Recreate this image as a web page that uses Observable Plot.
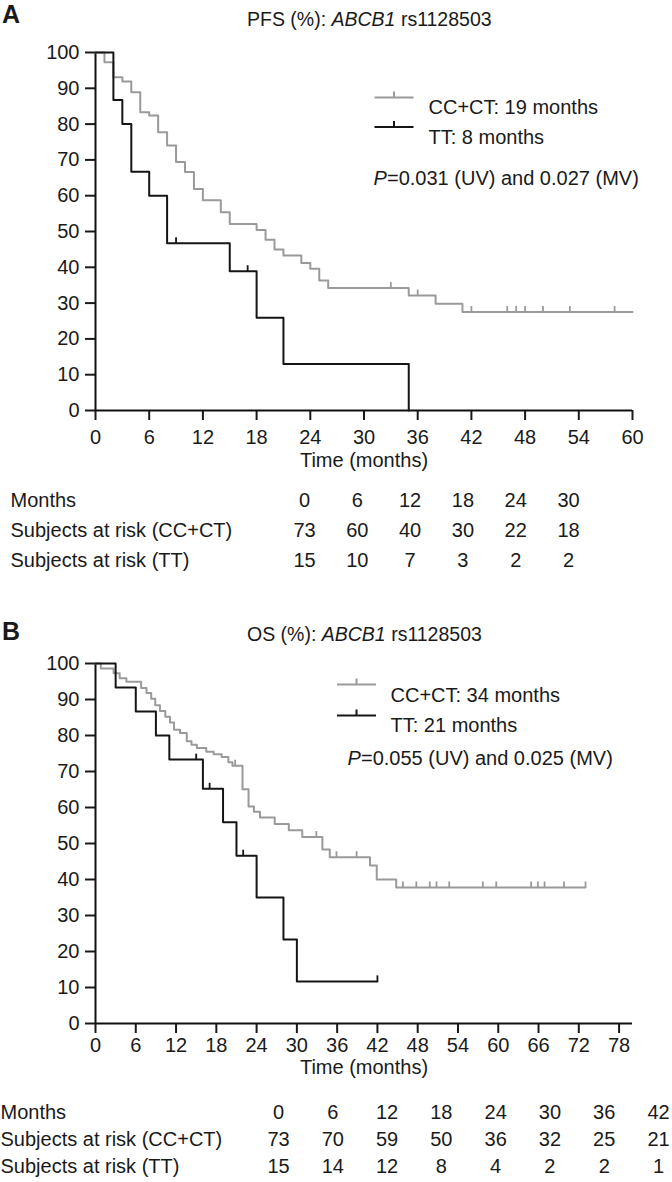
<!DOCTYPE html>
<html><head><meta charset="utf-8">
<script src="https://cdn.jsdelivr.net/npm/d3@7"></script>
<script src="https://cdn.jsdelivr.net/npm/@observablehq/plot@0.6"></script>
<style>
html,body{margin:0;padding:0;background:#fff;}
#root{position:relative;width:672px;height:1182px;overflow:hidden;font-family:"Liberation Sans",Arial,sans-serif;color:#1a1a1a;}
.abs{position:absolute;left:0;}
.letter{font-weight:bold;font-size:25px;line-height:1;}
.title{font-size:19.5px;line-height:1;white-space:nowrap;}
#root svg [aria-label^="x-axis"] line, #root svg [aria-label^="x-axis"] path,
#root svg [aria-label^="y-axis"] line, #root svg [aria-label^="y-axis"] path {stroke-width:2px;}
</style></head><body><div id="root"></div>
<script>
// ---------- data ----------
const yTicks = [0,10,20,30,40,50,60,70,80,90,100];
const pfsXTicks = [0,6,12,18,24,30,36,42,48,54,60];
const osXTicks = [0,6,12,18,24,30,36,42,48,54,60,66,72,78];

// Panel A (PFS)
const pfsGrayT = [0,1,2,3,4,5,6,7,8,9,10,11,12,14,15,18,19,20,21,23,24,25,26,35,38,41,60];
const pfsGrayS = [100,97.3,93.1,91.9,88.9,83.3,82.4,77.7,74.0,69.4,66.6,61.9,58.7,55.4,52.1,50.4,47.7,45.0,43.3,41.2,39.6,36.3,34.2,32.1,29.8,27.5,27.5];
const pfsGrayCensor = [33,36,42,46,47,48,50,53,58];
const pfsBlackT = [0,2,3,4,6,8,15,18,21,35];
const pfsBlackS = [100,86.7,80,66.7,60,46.7,38.9,25.9,13.0,0];
const pfsBlackCensor = [9,17];
const pfsLegend = ["CC+CT: 19 months","TT: 8 months"];
const pfsP = "=0.031 (UV) and 0.027 (MV)";
const riskMonthsA = [0,6,12,18,24,30];
const riskCCA = [73,60,40,30,22,18];
const riskTTA = [15,10,7,3,2,2];

// Panel B (OS)
const osGrayT = [0,0.8,2.7,3.6,4.6,6.8,7.6,8.3,8.9,9.6,10.4,11.1,11.7,12.6,13.6,14.3,15.1,16.5,17.6,18.8,19.8,20.4,21.9,22.8,23.6,24.5,26.7,28.8,30.8,33.8,34.9,40.9,41.9,44.8,73];
const osGrayS = [100,98.6,97.3,95.9,94.9,93.2,91.8,90.2,88.4,86.8,85.2,83.6,81.6,80.7,78.4,77.4,76.5,75.5,74.8,74.0,72.6,71.6,65.1,60.3,58.8,57.2,55.4,53.7,51.8,48.3,46.2,43.9,40.0,37.8,37.8];
const osGrayCensor = [20.8,32.9,35.9,38.9,45.8,47.8,49.8,50.8,52.7,57.7,59.7,64.9,65.9,66.9,69.8,73];
const osBlackT = [0,3,6,9,11,16,19,21,24,28,30,42];
const osBlackS = [100,93.3,86.7,80,73.3,65.2,55.9,46.6,35.0,23.3,11.7,11.7];
const osBlackCensor = [15,17,22,42];
const osLegend = ["CC+CT: 34 months","TT: 21 months"];
const osP = "=0.055 (UV) and 0.025 (MV)";
const riskMonthsB = [0,6,12,18,24,30,36,42];
const riskCCB = [73,70,59,50,36,32,25,21];
const riskTTB = [15,14,12,8,4,2,2,1];

const rowLabels = ["Months","Subjects at risk (CC+CT)","Subjects at risk (TT)"];

// ---------- helpers ----------
const GRAY = "#9a9a9a", BLACK = "#151515", TXT = "#1a1a1a";
const FONT = '"Liberation Sans", Arial, sans-serif';
const FS = "20px";
const steps = (T,S) => T.map((t,i) => ({t, s:S[i]}));
const at = (T,S,t) => S[Math.max(0, d3.bisectRight(T,t)-1)];
const censorPts = (C,T,S) => C.map(t => ({t, s:at(T,S,t)}));
const tickSym = {draw(ctx){ ctx.moveTo(0,0); ctx.lineTo(0,-6); }};
const legSym = {draw(ctx){ ctx.moveTo(-19.5,0); ctx.lineTo(19.5,0); ctx.moveTo(0,0); ctx.lineTo(0,-6); }};

function survivalPanel(o){
  const marks = [
    Plot.ruleX([0], {stroke:"#111", strokeWidth:2}),
    Plot.ruleY([0], {stroke:"#111", strokeWidth:2})
  ];
  for (const s of o.series){
    marks.push(Plot.line(steps(s.T,s.S), {x:"t", y:"s", curve:"step-after", stroke:s.color, strokeWidth:2}));
    marks.push(Plot.dot(censorPts(s.C,s.T,s.S), {x:"t", y:"s", symbol:tickSym, stroke:s.color, strokeWidth:1.8, fill:"none"}));
  }
  o.series.forEach((s,i) => {
    marks.push(Plot.dot([s.label], {frameAnchor:"top-left", dx:o.legX, dy:o.legLineY[i], symbol:legSym, stroke:s.color, strokeWidth:2, fill:"none"}));
    marks.push(Plot.text([s.label], {text:d=>d, frameAnchor:"top-left", dx:o.legTextX, dy:o.legTextY[i], textAnchor:"start", fill:TXT}));
  });
  marks.push(Plot.text(["P"], {text:d=>d, frameAnchor:"top-left", dx:o.pX, dy:o.pY, textAnchor:"start", fontStyle:"italic", fill:TXT}));
  marks.push(Plot.text([o.pText], {text:d=>d, frameAnchor:"top-left", dx:o.pX+13.5, dy:o.pY, textAnchor:"start", fill:TXT}));
  marks.push(Plot.text(["Time (months)"], {text:d=>d, frameAnchor:"bottom", dy:o.timeDY, fill:TXT}));
  return Plot.plot({
    width:672, height:o.height,
    marginLeft:95, marginRight:40, marginTop:o.mt, marginBottom:o.mb,
    style:{fontFamily:FONT, fontSize:FS, background:"none", color:TXT, overflow:"visible"},
    x:{domain:o.xDomain, ticks:o.xTicks, tickSize:10, tickPadding:o.xPad, label:null},
    y:{domain:[0,100], ticks:yTicks, tickSize:10, tickPadding:6, label:null},
    marks
  });
}

function riskTable(o){
  const cells = [];
  o.months.forEach((m,i) => {
    cells.push({m, row:rowLabels[0], v:m});
    cells.push({m, row:rowLabels[1], v:o.cc[i]});
    cells.push({m, row:rowLabels[2], v:o.tt[i]});
  });
  return Plot.plot({
    width:672, height:o.height, margin:0,
    style:{fontFamily:FONT, fontSize:FS, background:"none", color:TXT, overflow:"visible"},
    x:{type:"linear", domain:[o.months[0], o.months[o.months.length-1]], range:o.xRange, axis:null},
    y:{type:"point", domain:rowLabels, range:o.yRange, padding:0, axis:null},
    marks:[
      Plot.text(cells, {x:"m", y:"row", text:d=>String(d.v), fill:TXT}),
      Plot.text(rowLabels, {y:d=>d, text:d=>d, frameAnchor:"left", dx:o.labelX, textAnchor:"start", fill:TXT})
    ]
  });
}

// ---------- layout ----------
const root = document.getElementById("root");
function place(node, top){ const d = document.createElement("div"); d.className="abs"; d.style.top = top+"px"; d.appendChild(node); root.appendChild(d); }
function html(cls, top, left, inner){ const d = document.createElement("div"); d.className="abs "+cls; d.style.top=top+"px"; d.style.left=left+"px"; d.innerHTML=inner; root.appendChild(d); }

place(survivalPanel({
  height:480, mt:52, mb:70, xDomain:[0,60], xTicks:pfsXTicks, xPad:9,
  series:[
    {T:pfsGrayT, S:pfsGrayS, C:pfsGrayCensor, color:GRAY, label:pfsLegend[0]},
    {T:pfsBlackT, S:pfsBlackS, C:pfsBlackCensor, color:BLACK, label:pfsLegend[1]}
  ],
  legX:298.5, legLineY:[45,74.5], legTextX:333, legTextY:[47.5,77.5],
  pX:278, pY:118, pText:pfsP, timeDY:56
}), 0);

place(riskTable({months:riskMonthsA, cc:riskCCA, tt:riskTTA, height:110, xRange:[304,568], yRange:[20,80], labelX:10}), 480);

place(survivalPanel({
  height:500, mt:73, mb:67, xDomain:[0,80], xTicks:osXTicks, xPad:4,
  series:[
    {T:osGrayT, S:osGrayS, C:osGrayCensor, color:GRAY, label:osLegend[0]},
    {T:osBlackT, S:osBlackS, C:osBlackCensor, color:BLACK, label:osLegend[1]}
  ],
  legX:261, legLineY:[21,52], legTextX:295, legTextY:[24.5,54.5],
  pX:252, pY:87, pText:osP, timeDY:50
}), 590);

place(riskTable({months:riskMonthsB, cc:riskCCB, tt:riskTTB, height:92, xRange:[278,658], yRange:[21,76], labelX:0}), 1090);

html("letter", 2, 2, "A");
html("title", 10, 247, "PFS (%): <i>ABCB1</i> rs1128503");
html("letter", 619, 2, "B");
html("title", 625, 247, "OS (%): <i>ABCB1</i> rs1128503");
</script></body></html>
